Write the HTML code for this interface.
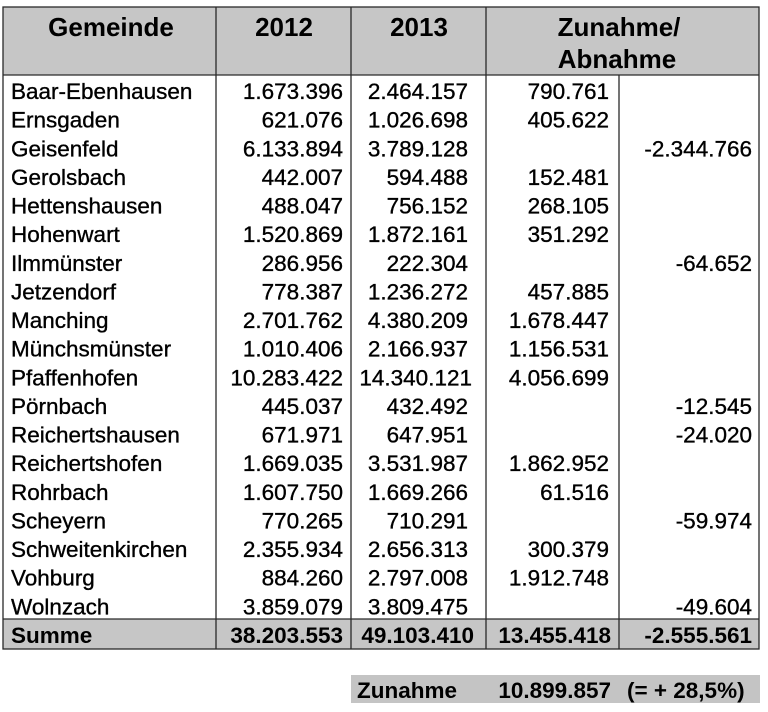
<!DOCTYPE html>
<html>
<head>
<meta charset="utf-8">
<style>
html,body{margin:0;padding:0;background:#fff;}
svg{display:block;}
text{font-family:"Liberation Sans",Arial,sans-serif;fill:#000;}
.h{font-size:26px;font-weight:bold;}
.d{font-size:22.5px;}
.d text{stroke:#000;stroke-width:0.35px;}
.b{font-size:22.5px;font-weight:bold;}
.e{text-anchor:end;}
.m{text-anchor:middle;}
</style>
</head>
<body>
<svg width="768" height="712" viewBox="0 0 768 712" xmlns="http://www.w3.org/2000/svg">
<rect x="0" y="0" width="768" height="712" fill="#fff"/>
<rect x="3" y="7" width="756" height="68" fill="#c6c6c6"/>
<rect x="3" y="619" width="756" height="30" fill="#c6c6c6"/>
<rect x="351" y="675" width="409" height="28" fill="#c4c4c4"/>

<g stroke="#2a2a2a" stroke-width="1.3" fill="none">
<rect x="3" y="7" width="756" height="642"/>
<line x1="3" y1="75" x2="759" y2="75"/>
<line x1="3" y1="619" x2="759" y2="619"/>
<line x1="216" y1="7" x2="216" y2="649"/>
<line x1="351" y1="7" x2="351" y2="649"/>
<line x1="486" y1="7" x2="486" y2="649"/>
<line x1="619" y1="75" x2="619" y2="649"/>
</g>

<text class="h m" x="111" y="36">Gemeinde</text>
<text class="h m" x="284" y="36">2012</text>
<text class="h m" x="419" y="36">2013</text>
<text class="h m" x="619" y="36">Zunahme/</text>
<text class="h m" x="617" y="68">Abnahme</text>

<g class="d">
<text x="11" y="99">Baar-Ebenhausen</text><text class="e" x="343" y="99">1.673.396</text><text class="e" x="468" y="99">2.464.157</text><text class="e" x="609" y="99">790.761</text>
<text x="11" y="127.6">Ernsgaden</text><text class="e" x="343" y="127.6">621.076</text><text class="e" x="468" y="127.6">1.026.698</text><text class="e" x="609" y="127.6">405.622</text>
<text x="11" y="156.3">Geisenfeld</text><text class="e" x="343" y="156.3">6.133.894</text><text class="e" x="468" y="156.3">3.789.128</text><text class="e" x="752" y="156.3">-2.344.766</text>
<text x="11" y="184.9">Gerolsbach</text><text class="e" x="343" y="184.9">442.007</text><text class="e" x="468" y="184.9">594.488</text><text class="e" x="609" y="184.9">152.481</text>
<text x="11" y="213.5">Hettenshausen</text><text class="e" x="343" y="213.5">488.047</text><text class="e" x="468" y="213.5">756.152</text><text class="e" x="609" y="213.5">268.105</text>
<text x="11" y="242.2">Hohenwart</text><text class="e" x="343" y="242.2">1.520.869</text><text class="e" x="468" y="242.2">1.872.161</text><text class="e" x="609" y="242.2">351.292</text>
<text x="11" y="270.8">Ilmmünster</text><text class="e" x="343" y="270.8">286.956</text><text class="e" x="468" y="270.8">222.304</text><text class="e" x="752" y="270.8">-64.652</text>
<text x="11" y="299.4">Jetzendorf</text><text class="e" x="343" y="299.4">778.387</text><text class="e" x="468" y="299.4">1.236.272</text><text class="e" x="609" y="299.4">457.885</text>
<text x="11" y="328">Manching</text><text class="e" x="343" y="328">2.701.762</text><text class="e" x="468" y="328">4.380.209</text><text class="e" x="609" y="328">1.678.447</text>
<text x="11" y="356.7">Münchsmünster</text><text class="e" x="343" y="356.7">1.010.406</text><text class="e" x="468" y="356.7">2.166.937</text><text class="e" x="609" y="356.7">1.156.531</text>
<text x="11" y="385.3">Pfaffenhofen</text><text class="e" x="343" y="385.3">10.283.422</text><text class="e" x="472" y="385.3">14.340.121</text><text class="e" x="609" y="385.3">4.056.699</text>
<text x="11" y="413.9">Pörnbach</text><text class="e" x="343" y="413.9">445.037</text><text class="e" x="468" y="413.9">432.492</text><text class="e" x="752" y="413.9">-12.545</text>
<text x="11" y="442.6">Reichertshausen</text><text class="e" x="343" y="442.6">671.971</text><text class="e" x="468" y="442.6">647.951</text><text class="e" x="752" y="442.6">-24.020</text>
<text x="11" y="471.2">Reichertshofen</text><text class="e" x="343" y="471.2">1.669.035</text><text class="e" x="468" y="471.2">3.531.987</text><text class="e" x="609" y="471.2">1.862.952</text>
<text x="11" y="499.8">Rohrbach</text><text class="e" x="343" y="499.8">1.607.750</text><text class="e" x="468" y="499.8">1.669.266</text><text class="e" x="609" y="499.8">61.516</text>
<text x="11" y="528.5">Scheyern</text><text class="e" x="343" y="528.5">770.265</text><text class="e" x="468" y="528.5">710.291</text><text class="e" x="752" y="528.5">-59.974</text>
<text x="11" y="557.1">Schweitenkirchen</text><text class="e" x="343" y="557.1">2.355.934</text><text class="e" x="468" y="557.1">2.656.313</text><text class="e" x="609" y="557.1">300.379</text>
<text x="11" y="585.7">Vohburg</text><text class="e" x="343" y="585.7">884.260</text><text class="e" x="468" y="585.7">2.797.008</text><text class="e" x="609" y="585.7">1.912.748</text>
<text x="11" y="614.3">Wolnzach</text><text class="e" x="343" y="614.3">3.859.079</text><text class="e" x="468" y="614.3">3.809.475</text><text class="e" x="752" y="614.3">-49.604</text>
</g>

<g class="b">
<text x="11" y="643">Summe</text>
<text class="e" x="343" y="643">38.203.553</text>
<text class="e" x="474" y="643">49.103.410</text>
<text class="e" x="611" y="643">13.455.418</text>
<text class="e" x="752" y="643">-2.555.561</text>
</g>

<g class="b">
<text x="357" y="698">Zunahme</text>
<text class="e" x="611" y="698">10.899.857</text>
<text x="627" y="698">(= + 28,5%)</text>
</g>
</svg>
</body>
</html>
